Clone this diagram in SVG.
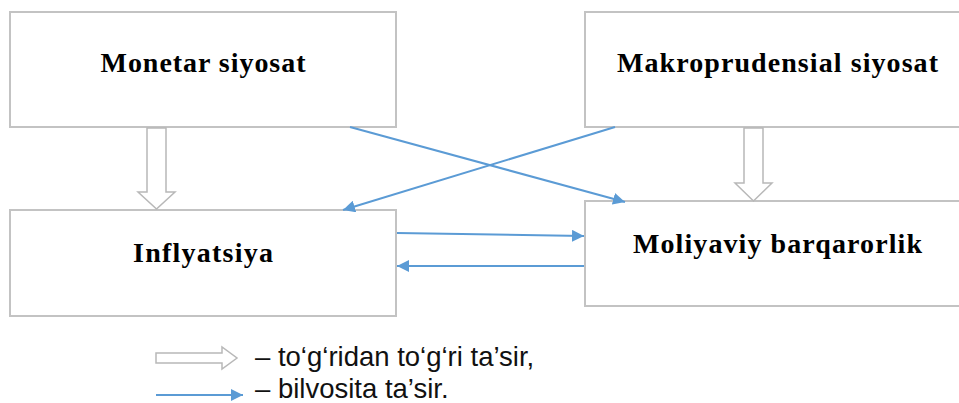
<svg xmlns="http://www.w3.org/2000/svg" width="959" height="403" viewBox="0 0 959 403">
<defs>
<style>
.box{fill:#fff;stroke:#c3c3c3;stroke-width:2}
.title{font-family:"Liberation Serif","Times New Roman",serif;font-weight:bold;font-size:28px;fill:#000;text-anchor:middle}
.leg{font-family:"Liberation Sans",Arial,sans-serif;font-size:27.5px;fill:#111}
.blue{stroke:#5b9bd5;stroke-width:2;fill:none;marker-end:url(#ah)}
.hollow{fill:#fff;stroke:#b8b8b8;stroke-width:1.5;stroke-linejoin:miter}
</style>
<marker id="ah" viewBox="0 0 10 10" refX="10" refY="5" markerWidth="6" markerHeight="6" markerUnits="strokeWidth" orient="auto">
<path d="M0,0 L10,5 L0,10 z" fill="#5b9bd5"/>
</marker>
</defs>
<g id="monetar"><rect class="box" x="10" y="12" width="386" height="115"/><text class="title" x="203" y="72" textLength="205" lengthAdjust="spacing">Monetar siyosat</text></g>
<g id="makro"><rect class="box" x="585" y="12" width="380" height="115"/><text class="title" x="777.5" y="72" textLength="321" lengthAdjust="spacing">Makroprudensial siyosat</text></g>
<g id="inflyatsiya"><rect class="box" x="10" y="210" width="386" height="106"/><text class="title" x="203" y="262" textLength="140" lengthAdjust="spacing">Inflyatsiya</text></g>
<g id="moliyaviy"><rect class="box" x="585" y="201" width="380" height="105"/><text class="title" x="777.5" y="253" textLength="289" lengthAdjust="spacing">Moliyaviy barqarorlik</text></g>
<g id="connectors">
<path class="hollow" d="M147,128 L166,128 L166,192 L175,192 L156.5,209 L138,192 L147,192 Z"/>
<path class="hollow" d="M744,128 L763,128 L763,183 L772,183 L753.5,201 L735,183 L744,183 Z"/>
<line class="blue" x1="350" y1="127" x2="625" y2="202"/>
<line class="blue" x1="615" y1="127" x2="343" y2="210"/>
<line class="blue" x1="397" y1="233" x2="584" y2="236"/>
<line class="blue" x1="584" y1="266" x2="397" y2="266"/>
</g>
<g id="legend">
<path class="hollow" d="M156,353 L222,353 L222,347 L237,358 L222,369 L222,363 L156,363 Z"/>
<text class="leg" x="255" y="366">– to‘g‘ridan to‘g‘ri ta’sir,</text>
<line class="blue" x1="156" y1="395" x2="243" y2="395"/>
<text class="leg" x="255" y="398">– bilvosita ta’sir.</text>
</g>
</svg>
